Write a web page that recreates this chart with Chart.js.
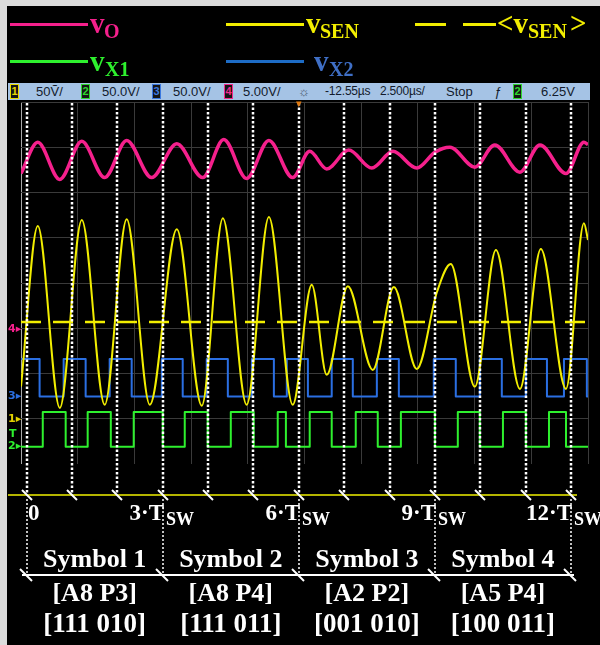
<!DOCTYPE html>
<html>
<head>
<meta charset="utf-8">
<title>PSM modulation waveforms</title>
<script src="https://cdn.jsdelivr.net/npm/chart.js@4.4.1/dist/chart.umd.min.js"></script>
<style>
  html, body { margin: 0; padding: 0; background: #000; }
  #scope { position: relative; width: 600px; height: 645px; background: #000; overflow: hidden;
           font-family: "Liberation Serif", "Times New Roman", serif; }
  #scope canvas { position: absolute; left: 0; top: 0; }
  .frame-top { position: absolute; left: 0; top: 0; width: 600px; height: 6px; background: #dcdcdc; }
  .frame-left { position: absolute; left: 0; top: 0; width: 7px; height: 645px; background: #dcdcdc; }
  .t { position: absolute; white-space: nowrap; font-weight: bold; line-height: 1; }
  .swatch { position: absolute; height: 3px; }
  .status { position: absolute; left: 8px; top: 83px; width: 582px; height: 17px; background: #a5c3e5;
            font-family: "Liberation Sans", Arial, sans-serif; font-size: 13px; color: #121a2c; }
  .status span { position: absolute; top: 1px; line-height: 15px; white-space: nowrap; }
  .status span.sm { font-size: 12px; letter-spacing: -0.2px; }
  .status span.ch { top: 1px; width: 7px; height: 13px; line-height: 13px; background: #151515;
                    border: 1px solid; font-size: 11px; font-weight: bold; text-align: center; }
  .marker { position: absolute; font-family: "DejaVu Sans", sans-serif; font-size: 11px; font-weight: bold;
            line-height: 1; white-space: nowrap; }
</style>
</head>
<body>
<div id="scope">
  <canvas id="chart" width="600" height="645"></canvas>
  <div class="frame-top"></div>
  <div class="frame-left"></div>
  <div class="status">
    <span class="ch" style="left:2px;color:#e6d800;border-color:#e6d800">1</span>
    <span style="left:28px">50Ṽ/</span>
    <span class="ch" style="left:73px;color:#2fd62f;border-color:#2fd62f">2</span>
    <span style="left:94px">50.0V/</span>
    <span class="ch" style="left:144px;color:#3a78e0;border-color:#3a78e0">3</span>
    <span style="left:165px">50.0V/</span>
    <span class="ch" style="left:216px;color:#f0288c;border-color:#f0288c">4</span>
    <span style="left:235px">5.00V/</span>
    <span style="left:290px;color:#4a5a70">☼</span>
    <span class="sm" style="left:317px">-12.55µs</span>
    <span class="sm" style="left:372px">2.500µs/</span>
    <span style="left:438px">Stop</span>
    <span style="left:486px;font-style:italic">ƒ</span>
    <span class="ch" style="left:505px;color:#2fd62f;border-color:#2fd62f">2</span>
    <span style="left:533px">6.25V</span>
  </div>
</div>
<script>
// ---- time base: microseconds, one switching period T_SW = 2 µs ----
const TSW = 2;
const periodMarks = [0, 1, 2, 3, 4, 5, 6, 7, 8, 9, 10, 11, 12];
const symbolEdges = [0, 3, 6, 9, 12];
const timeLabels = ['0', '3·T', '6·T', '9·T', '12·T'];
const symbolNames = ['Symbol 1', 'Symbol 2', 'Symbol 3', 'Symbol 4'];
const symbolCodes = ['[A8 P3]', '[A8 P4]', '[A2 P2]', '[A5 P4]'];
const symbolBits = ['[111 010]', '[111 011]', '[001 010]', '[100 011]'];

// screen graticule: 10 divisions of 2.5 µs, 8 vertical divisions
const gridX = [-0.25, 2.25, 4.75, 7.25, 9.75, 12.25, 14.75, 17.25, 19.75, 22.25, 24.75];

// v_O (ch 4): turning points of the trace, time [µs] and level [div]
const vOTime = [-0.25, 0.49, 1.46, 2.43, 3.44, 4.41, 5.51, 6.62, 7.76, 8.69, 9.70, 10.68, 11.73, 12.48,
                13.23, 14.20, 15.22, 16.15, 17.20, 18.00, 18.66, 19.76, 20.64, 21.75, 22.63, 23.78, 24.57, 24.75];
const vOLevel = [6.42, 7.11, 6.29, 7.13, 6.33, 7.15, 6.33, 7.08, 6.33, 7.17, 6.31, 7.15, 6.33, 6.91,
                 6.52, 6.94, 6.54, 6.91, 6.54, 6.89, 7.00, 6.56, 7.05, 6.45, 7.05, 6.42, 7.11, 7.06];

// v_SEN (ch 1): turning points, time [µs] and level [div]
const vSenTime = [-0.25, 0.49, 1.46, 2.43, 3.44, 4.41, 5.43, 6.62, 7.72, 8.65, 9.70, 10.68, 11.73, 12.57,
                  13.23, 14.16, 15.26, 16.19, 17.20, 18.09, 18.70, 19.76, 20.69, 21.75, 22.67, 23.78, 24.57, 24.75];
const vSenLevel = [1.71, 5.26, 1.24, 5.39, 1.31, 5.41, 1.31, 5.19, 1.29, 5.43, 1.31, 5.46, 1.31, 3.96,
                   1.97, 3.93, 2.08, 3.91, 2.10, 3.80, 4.42, 1.71, 4.73, 1.66, 4.75, 1.66, 5.32, 4.95];
// <v_SEN>: average level [div]
const vSenMean = 3.14;

// v_X2 (ch 3) and v_X1 (ch 2): switching instants [µs] and logic state after each one
const vX2Edges = [-0.25, 0.57, 1.63, 2.60, 3.66, 4.63, 5.96, 6.88, 7.94, 8.87, 9.93, 10.90, 11.47, 12.40,
                  13.45, 14.38, 15.44, 16.41, 17.95, 18.92, 19.98, 20.95, 22.01, 22.94, 23.69, 24.70, 24.75];
const vX2State = [1, 0, 1, 0, 1, 0, 1, 0, 1, 0, 1, 0, 1, 0, 1, 0, 1, 0, 1, 0, 1, 0, 1, 0, 1, 0, 0];
const vX1Edges = [-0.25, 0.71, 1.72, 2.69, 3.71, 4.72, 6.00, 6.97, 7.98, 9.00, 10.01, 11.07, 11.43, 12.48,
                  13.45, 14.51, 15.48, 16.50, 18.00, 19.01, 19.98, 21.00, 22.01, 23.03, 23.78, 24.75];
const vX1State = [0, 1, 0, 1, 0, 1, 0, 1, 0, 1, 0, 1, 0, 1, 0, 1, 0, 1, 0, 1, 0, 1, 0, 1, 0, 0];
// screen levels of the two bridge voltages [div]
const X2_LEVELS = [1.49, 2.32];
const X1_LEVELS = [0.38, 1.15];

const PINK = '#f5208c', YELLOW = '#f2ee00', BLUE = '#2b6fe2', GREEN = '#2ef02e';
const AXIS_Y = 495, ARROW_Y = 575;

const pairs = (xs, ys) => xs.map((x, i) => ({ x, y: ys[i] }));
const steps = (xs, st, lv) => xs.map((x, i) => ({ x, y: lv[st[i]] }));

// dotted period markers, time axis and symbol brackets
const scopeMarks = {
  id: 'scopeMarks',
  afterDatasetsDraw(chart) {
    const { ctx, chartArea, scales: { x } } = chart;
    const px = k => Math.round(x.getPixelForValue(k * TSW));
    ctx.save();
    ctx.strokeStyle = '#ffffff';
    ctx.lineWidth = 2.5;
    ctx.setLineDash([2.5, 2]);
    periodMarks.forEach(k => {
      ctx.beginPath();
      ctx.moveTo(px(k), chartArea.top + 1);
      ctx.lineTo(px(k), AXIS_Y);
      ctx.stroke();
    });
    ctx.setLineDash([]);
    ctx.strokeStyle = '#b4b400';
    ctx.lineWidth = 2;
    ctx.beginPath();
    ctx.moveTo(8, AXIS_Y);
    ctx.lineTo(px(12) + 6, AXIS_Y);
    ctx.stroke();
    ctx.strokeStyle = '#ffffff';
    ctx.lineWidth = 2;
    periodMarks.forEach(k => {
      ctx.beginPath();
      ctx.moveTo(px(k) - 5, AXIS_Y - 5);
      ctx.lineTo(px(k) + 5, AXIS_Y + 5);
      ctx.stroke();
    });
    ctx.lineWidth = 1.5;
    ctx.setLineDash([2, 2]);
    symbolEdges.forEach(k => {
      ctx.beginPath();
      ctx.moveTo(px(k), AXIS_Y + 4);
      ctx.lineTo(px(k), ARROW_Y);
      ctx.stroke();
    });
    ctx.setLineDash([]);
    ctx.lineWidth = 2;
    ctx.beginPath();
    ctx.moveTo(px(0) - 5, ARROW_Y);
    ctx.lineTo(px(12) + 3, ARROW_Y);
    ctx.stroke();
    symbolEdges.forEach(k => {
      ctx.beginPath();
      ctx.moveTo(px(k) - 7, ARROW_Y - 6);
      ctx.lineTo(px(k) + 5, ARROW_Y + 6);
      ctx.stroke();
    });
    ctx.restore();
  }
};

const chart = new Chart(document.getElementById('chart'), {
  type: 'line',
  data: {
    datasets: [
      { label: 'vO', data: pairs(vOTime, vOLevel), borderColor: PINK, borderWidth: 3.5,
        cubicInterpolationMode: 'monotone' },
      { label: 'vSEN', data: pairs(vSenTime, vSenLevel), borderColor: YELLOW, borderWidth: 2,
        cubicInterpolationMode: 'monotone' },
      { label: '<vSEN>', data: [{ x: -0.25, y: vSenMean }, { x: 24.75, y: vSenMean }],
        borderColor: YELLOW, borderWidth: 2.5, borderDash: [20, 12] },
      { label: 'vX2', data: steps(vX2Edges, vX2State, X2_LEVELS), borderColor: BLUE, borderWidth: 2,
        stepped: 'before' },
      { label: 'vX1', data: steps(vX1Edges, vX1State, X1_LEVELS), borderColor: GREEN, borderWidth: 2,
        stepped: 'before' }
    ]
  },
  options: {
    responsive: false,
    animation: false,
    devicePixelRatio: 1,
    layout: { padding: { left: 21, top: 102, right: 12, bottom: 181 } },
    elements: { point: { radius: 0 }, line: { borderJoinStyle: 'round' } },
    plugins: { legend: { display: false }, tooltip: { enabled: false } },
    scales: {
      x: {
        type: 'linear', min: -0.25, max: 24.75,
        afterBuildTicks: s => { s.ticks = gridX.map(v => ({ value: v })); },
        afterFit: s => { s.height = 0; },
        ticks: { display: false },
        border: { display: false },
        grid: { drawTicks: false, lineWidth: 1,
                color: c => c.index === 0 ? '#a8a8a8' : '#3a3a3a' }
      },
      y: {
        type: 'linear', min: 0, max: 8,
        afterFit: s => { s.width = 0; },
        ticks: { display: false, stepSize: 1 },
        border: { display: false },
        grid: { drawTicks: false, lineWidth: 1,
                color: c => c.tick.value === 0 ? 'rgba(0,0,0,0)' : '#3a3a3a' }
      }
    }
  },
  plugins: [scopeMarks]
});

// ---- text ----
const scope = document.getElementById('scope');
function put(text, x, baseline, size, color, align) {
  const el = document.createElement('div');
  el.className = 't';
  el.textContent = text;
  el.style.fontSize = size + 'px';
  el.style.color = color;
  el.style.left = x + 'px';
  el.style.top = (baseline - 0.8375 * size) + 'px';
  if (align === 'right') el.style.transform = 'translateX(-100%)';
  if (align === 'center') el.style.transform = 'translateX(-50%)';
  scope.appendChild(el);
  return el;
}
function swatch(x, y, w, color) {
  const el = document.createElement('div');
  el.className = 'swatch';
  el.style.left = x + 'px';
  el.style.top = (y - 1.5) + 'px';
  el.style.width = w + 'px';
  el.style.background = color;
  scope.appendChild(el);
}
function marker(text, x, y, color) {
  const el = document.createElement('div');
  el.className = 'marker';
  el.textContent = text;
  el.style.left = x + 'px';
  el.style.top = (y - 6) + 'px';
  el.style.color = color;
  scope.appendChild(el);
}

// legend
swatch(10, 24, 78, PINK);
put('v', 90, 33, 29, PINK); put('O', 104, 38, 20, PINK);
swatch(226, 24, 78, YELLOW);
put('v', 306, 33, 29, YELLOW); put('SEN', 320, 38, 20, YELLOW);
swatch(415, 24, 31, YELLOW); swatch(463, 24, 33, YELLOW);
put('<v', 497, 33, 29, YELLOW); put('SEN', 528, 38, 20, YELLOW); put('>', 570, 33, 29, YELLOW);
swatch(10, 61, 78, GREEN);
put('v', 90, 71, 29, GREEN); put('X1', 105, 76, 20, GREEN);
swatch(226, 61, 78, '#1d6cc6');
put('v', 314, 71, 29, '#3f6fc6'); put('X2', 329, 76, 20, '#3f6fc6');

// channel reference markers
marker('4▸', 8, 329, PINK);
marker('3▸', 8, 396, BLUE);
marker('1▸', 8, 419, '#e0d000');
marker('T', 9, 434, GREEN);
marker('2▸', 8, 446, GREEN);
marker('▾', 296, 104, '#e07a10');

// time labels and symbol annotations
const xs = chart.scales.x;
symbolEdges.forEach((k, i) => {
  const p = Math.round(xs.getPixelForValue(k * TSW));
  if (i === 0) {
    put(timeLabels[i], p + 1, 520, 23, '#fff');
  } else {
    put(timeLabels[i], p + 1, 520, 23, '#fff', 'right');
    put('SW', p + 3, 525, 18, '#fff');
  }
});
symbolNames.forEach((name, i) => {
  const mid = (xs.getPixelForValue(symbolEdges[i] * TSW) + xs.getPixelForValue(symbolEdges[i + 1] * TSW)) / 2;
  put(name, mid, 568, 26, '#fff', 'center');
  put(symbolCodes[i], mid, 602, 26, '#fff', 'center');
  put(symbolBits[i], mid, 633, 27, '#fff', 'center');
});
</script>
</body>
</html>
